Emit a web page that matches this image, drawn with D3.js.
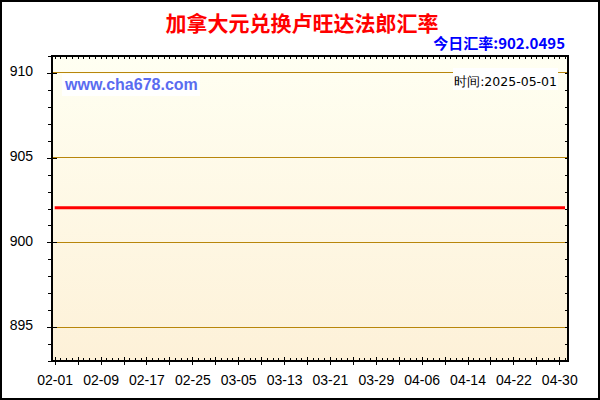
<!DOCTYPE html>
<html>
<head>
<meta charset="utf-8">
<script src="https://cdn.jsdelivr.net/npm/d3@7"></script>
<style>
  body { margin: 0; background: #fff; }
  svg { display: block; font-family: "Liberation Sans", Arial, sans-serif; }
  line, rect { shape-rendering: crispEdges; }
</style>
</head>
<body>
<svg id="chart" width="600" height="400"></svg>
<script>
// data
const dates = ['2025-02-01', '2025-02-09', '2025-02-17', '2025-02-25', '2025-03-05', '2025-03-13',
    '2025-03-21', '2025-03-29', '2025-04-06', '2025-04-14', '2025-04-22', '2025-04-30', '2025-05-01'];
const rates = [902.0495, 902.0495, 902.0495, 902.0495, 902.0495, 902.0495,
    902.0495, 902.0495, 902.0495, 902.0495, 902.0495, 902.0495, 902.0495];
const tickLabels = ['02-01', '02-09', '02-17', '02-25', '03-05', '03-13',
    '03-21', '03-29', '04-06', '04-14', '04-22', '04-30'];
const yTicks = [895, 900, 905, 910];

const parse = d3.timeParse('%Y-%m-%d');
const fmt = d3.timeFormat('%m-%d');
const data = dates.map((d, i) => ({ date: parse(d), value: rates[i] }));

const svg = d3.select('svg#chart');
const plotLeft = 52, plotRight = 568, plotTop = 56, plotBottom = 361;

const x = d3.scaleTime()
    .domain([parse('2025-02-01'), parse('2025-05-01')])
    .range([54.7, 565]);
const y = d3.scaleLinear()
    .domain([893, 911])
    .range([plotBottom, plotTop]);

// plot background
const grad = svg.append('defs').append('linearGradient')
    .attr('id', 'bg').attr('x1', 0).attr('y1', 0).attr('x2', 0).attr('y2', 1);
grad.append('stop').attr('offset', '0%').attr('stop-color', '#fffff2');
grad.append('stop').attr('offset', '100%').attr('stop-color', '#fdf1d8');

svg.append('rect')
    .attr('x', plotLeft).attr('y', plotTop)
    .attr('width', plotRight - plotLeft).attr('height', plotBottom - plotTop)
    .attr('fill', 'url(#bg)');

// grid lines
svg.append('g')
    .selectAll('line')
    .data(yTicks)
    .enter()
    .append('line')
    .attr('x1', plotLeft).attr('x2', plotRight)
    .attr('y1', d => y(d)).attr('y2', d => y(d))
    .attr('stroke', '#b8860b')
    .attr('stroke-width', 1);

// label boxes
svg.append('rect')
    .attr('x', 62).attr('y', 74).attr('width', 138).attr('height', 22)
    .attr('fill', '#fff');
svg.append('text')
    .attr('x', 65).attr('y', 90)
    .attr('font-size', 16).attr('font-weight', 'bold')
    .attr('fill', '#5a6cf0')
    .text('www.cha678.com');

svg.append('rect')
    .attr('x', 453).attr('y', 68).attr('width', 105).attr('height', 22)
    .attr('fill', '#fff');
svg.append('text')
    .attr('x', 557).attr('y', 85.5)
    .attr('text-anchor', 'end')
    .attr('font-family', '"DejaVu Sans", sans-serif')
    .attr('font-size', 12.5)
    .attr('fill', '#000')
    .text('时间:2025-05-01');

// rate line
const line = d3.line()
    .x(d => x(d.date))
    .y(d => y(d.value));
svg.append('path')
    .datum(data)
    .attr('d', line)
    .attr('fill', 'none')
    .attr('stroke', '#ff0000')
    .attr('stroke-width', 3);

// axes
const days = d3.timeDay.range(parse('2025-02-01'), parse('2025-05-02'));
const majorDays = days.filter((d, i) => i % 4 === 0);
const yMinor = d3.range(893, 912);

const styleAxis = g => {
    g.select('.domain').remove();
    g.selectAll('line').attr('stroke', '#000');
};

// minor ticks
svg.append('g')
    .attr('transform', `translate(0, ${plotBottom})`)
    .call(d3.axisBottom(x).tickValues(days).tickSize(-3).tickFormat(''))
    .call(styleAxis);
svg.append('g')
    .attr('transform', `translate(0, ${plotTop})`)
    .call(d3.axisTop(x).tickValues(days).tickSize(-3).tickFormat(''))
    .call(styleAxis);
svg.append('g')
    .attr('transform', `translate(${plotLeft}, 0)`)
    .call(d3.axisLeft(y).tickValues(yMinor).tickSize(4).tickFormat(''))
    .call(styleAxis);
svg.append('g')
    .attr('transform', `translate(${plotRight}, 0)`)
    .call(d3.axisRight(y).tickValues(yMinor).tickSize(-3).tickFormat(''))
    .call(styleAxis);

// major ticks with labels
const xAxis = svg.append('g')
    .attr('transform', `translate(0, ${plotBottom})`)
    .call(d3.axisBottom(x)
        .tickValues(majorDays)
        .tickSize(4)
        .tickPadding(10)
        .tickFormat(d => tickLabels.includes(fmt(d)) ? fmt(d) : ''))
    .call(styleAxis);
xAxis.selectAll('line').attr('y1', -4);
xAxis.selectAll('text')
    .attr('font-size', 14)
    .attr('font-family', '"Liberation Sans", Arial, sans-serif')
    .attr('fill', '#000');

const yAxis = svg.append('g')
    .attr('transform', `translate(${plotLeft}, 0)`)
    .call(d3.axisLeft(y)
        .tickValues(yTicks)
        .tickSize(5)
        .tickPadding(14)
        .tickFormat(d3.format('d')))
    .call(styleAxis);
yAxis.selectAll('line').attr('x1', 5);
yAxis.selectAll('text')
    .attr('font-size', 14)
    .attr('font-family', '"Liberation Sans", Arial, sans-serif')
    .attr('fill', '#000')
    .attr('dy', '0.2em');

// plot frame
svg.append('rect')
    .attr('x', plotLeft).attr('y', plotTop)
    .attr('width', plotRight - plotLeft).attr('height', plotBottom - plotTop)
    .attr('fill', 'none')
    .attr('stroke', '#000')
    .attr('stroke-width', 1.2);

// titles
svg.append('text')
    .attr('x', 302).attr('y', 31)
    .attr('text-anchor', 'middle')
    .attr('font-family', '"Noto Sans CJK SC", sans-serif')
    .attr('font-size', 21).attr('font-weight', 'bold')
    .attr('fill', '#ff0000')
    .text('加拿大元兑换卢旺达法郎汇率');

svg.append('text')
    .attr('x', 565).attr('y', 49)
    .attr('text-anchor', 'end')
    .attr('font-family', '"Noto Sans CJK SC", sans-serif')
    .attr('font-size', 15).attr('font-weight', 'bold')
    .attr('fill', '#0000ff')
    .text('今日汇率:902.0495');

// outer border
svg.append('rect')
    .attr('x', 1).attr('y', 1).attr('width', 598).attr('height', 398)
    .attr('fill', 'none')
    .attr('stroke', '#000')
    .attr('stroke-width', 2);
</script>
</body>
</html>
